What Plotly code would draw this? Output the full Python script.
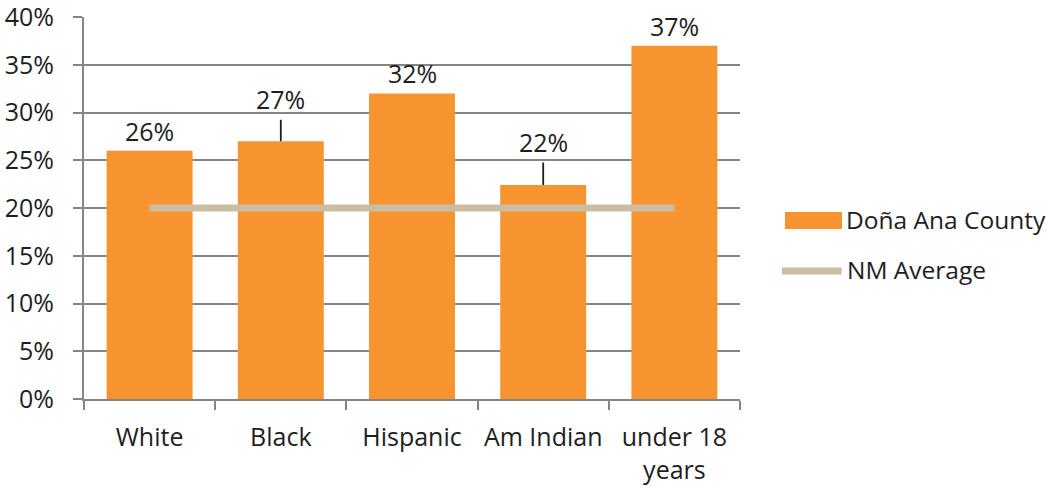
import plotly.graph_objects as go

categories = ["White", "Black", "Hispanic", "Am Indian", "under 18<br>years"]
county_values = [26.0, 27.0, 32.0, 22.4, 37.0]
county_labels = ["26%", "27%", "32%", "22%", "37%"]
nm_average = [20, 20, 20, 20, 20]
y_tickvals = [0, 5, 10, 15, 20, 25, 30, 35, 40]
y_ticktext = ["0%", "5%", "10%", "15%", "20%", "25%", "30%", "35%", "40%"]
leader_offsets = [0, 42, 0, 43, 0]  # px offset of label above bar (0 = no leader line)

FONT = "Open Sans"
TXT = "#1E1E1E"
BAR = "#F7942F"
NM = "#CBBDA3"
GRID = "#858585"
FS = 25

fig = go.Figure()
fig.add_trace(go.Bar(x=categories, y=county_values, marker=dict(color=BAR, line=dict(width=0)),
                     name="Doña Ana County", showlegend=False))
fig.add_trace(go.Scatter(x=categories, y=nm_average, mode="lines", line=dict(color=NM, width=7),
                         name="NM Average", showlegend=False))

for cat, val, lab, off in zip(categories, county_values, county_labels, leader_offsets):
    if off:
        fig.add_annotation(x=cat, y=val, text=lab, showarrow=True, ax=0, ay=-off,
                           arrowhead=0, arrowwidth=1.8, arrowcolor=TXT, startstandoff=2,
                           font=dict(family=FONT, size=FS, color=TXT))
    else:
        fig.add_annotation(x=cat, y=val, text=lab, showarrow=False, yanchor="bottom", yshift=1,
                           font=dict(family=FONT, size=FS, color=TXT))

# custom legend
fig.add_shape(type="rect", xref="paper", yref="paper", x0=1.0686, x1=1.1555, y0=0.445, y1=0.4895,
              fillcolor=BAR, line=dict(width=0))
fig.add_shape(type="line", xref="paper", yref="paper", x0=1.064, x1=1.155, y0=0.335, y1=0.335,
              line=dict(color=NM, width=7))
fig.add_annotation(xref="paper", yref="paper", x=1.158, y=0.4686, xanchor="left", yanchor="middle",
                   text="Doña Ana County", showarrow=False, font=dict(family=FONT, size=24.5, color=TXT))
fig.add_annotation(xref="paper", yref="paper", x=1.160, y=0.3377, xanchor="left", yanchor="middle",
                   text="NM Average", showarrow=False, font=dict(family=FONT, size=24.5, color=TXT))

fig.update_layout(
    width=1047, height=487,
    margin=dict(l=84, r=307, t=17, b=88),
    paper_bgcolor="white", plot_bgcolor="white",
    bargap=0.345,
    font=dict(family=FONT, size=FS, color=TXT),
    showlegend=False,
)
fig.update_xaxes(type="category", range=[-0.5, 4.5], showline=True, linecolor=GRID, linewidth=2,
                 ticks="outside", tickson="boundaries", ticklen=9, tickcolor=GRID, tickwidth=2,
                 showgrid=False, ticklabelstandoff=15, automargin=False,
                 tickfont=dict(family=FONT, size=FS, color=TXT))
fig.update_yaxes(range=[0, 40], tickmode="array", tickvals=y_tickvals, ticktext=y_ticktext,
                 showline=True, linecolor=GRID, linewidth=2,
                 ticks="outside", ticklen=9, tickcolor=GRID, tickwidth=2,
                 showgrid=True, gridcolor=GRID, gridwidth=2, zeroline=False,
                 ticklabelstandoff=14, automargin=False, ticklabeloverflow="allow",
                 tickfont=dict(family=FONT, size=FS, color=TXT))

fig.write_html("out.html", config={"displayModeBar": False},
               post_script="document.body.style.margin='0';document.body.style.padding='0';")
